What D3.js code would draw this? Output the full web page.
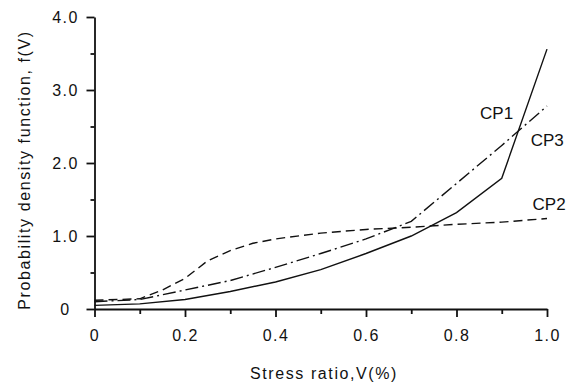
<!DOCTYPE html>
<html><head><meta charset="utf-8">
<script src="https://cdn.jsdelivr.net/npm/d3@7"></script>
<style>
body{margin:0;background:#fff;}
text{font-family:"Liberation Sans",Arial,sans-serif;fill:#111;}
</style></head>
<body><svg id="c" width="569" height="385"></svg>
<script>
const vCP1 = [0,0.1,0.2,0.3,0.4,0.5,0.6,0.7,0.8,0.9,1.0];
const fCP1 = [0.05,0.07,0.13,0.24,0.37,0.54,0.76,1.0,1.32,1.79,3.56];
const vCP2 = [0,0.1,0.15,0.2,0.25,0.3,0.35,0.4,0.5,0.6,0.7,0.8,0.9,1.0];
const fCP2 = [0.12,0.14,0.26,0.42,0.66,0.8,0.9,0.96,1.04,1.09,1.12,1.16,1.19,1.24];
const vCP3 = [0,0.1,0.2,0.3,0.4,0.5,0.6,0.7,0.8,0.9,1.0];
const fCP3 = [0.1,0.13,0.26,0.39,0.57,0.76,0.96,1.2,1.72,2.24,2.78];
const seriesNames = ["CP1","CP2","CP3"];
const xMajor = [0,0.2,0.4,0.6,0.8,1.0];
const xMajorLabels = ["0","0.2","0.4","0.6","0.8","1.0"];
const xMinor = [0.1,0.3,0.5,0.7,0.9];
const yMajor = [0,1,2,3,4];
const yMajorLabels = ["0","1.0","2.0","3.0","4.0"];
const yMinor = [0.5,1.5,2.5,3.5];
const xTitle = "Stress ratio,V(%)";
const yTitle = "Probability density function, f(V)";

const svg = d3.select("#c");
const x = d3.scaleLinear().domain([0,1]).range([94.5,547]);
const y = d3.scaleLinear().domain([0,4]).range([309,17]);

// axes
const gx = svg.append("g").attr("transform","translate(0,309)");
gx.call(d3.axisBottom(x).tickValues(xMinor).tickSize(5).tickSizeOuter(0).tickFormat(""));
gx.call(g=>g.select(".domain").remove());
const gx2 = svg.append("g").attr("transform","translate(0,309)");
gx2.call(d3.axisBottom(x).tickValues(xMajor).tickSize(8).tickSizeOuter(0).tickPadding(13)
  .tickFormat((d,i)=>xMajorLabels[i]));
const gy = svg.append("g").attr("transform","translate(94.5,0)");
gy.call(d3.axisLeft(y).tickValues(yMinor).tickSize(4).tickSizeOuter(0).tickFormat(""));
gy.call(g=>g.select(".domain").remove());
const gy2 = svg.append("g").attr("transform","translate(94.5,0)");
gy2.call(d3.axisLeft(y).tickValues(yMajor).tickSize(8).tickSizeOuter(0).tickPadding(0)
  .tickFormat((d,i)=>yMajorLabels[i]));
svg.selectAll(".domain,.tick line").attr("stroke","#111").attr("stroke-width",1.8);
svg.selectAll(".tick text").attr("font-size",16).attr("letter-spacing","1.5px")
  .attr("fill","#111").attr("font-family","'Liberation Sans',Arial,sans-serif");
gy2.selectAll(".tick text").attr("text-anchor","middle").attr("x",-29).attr("dy","0.36em");
gx2.selectAll(".tick text").attr("dy","0.71em");

// titles
svg.append("text").attr("x",324).attr("y",379).attr("text-anchor","middle")
  .attr("font-size",16).attr("letter-spacing","1.6px").text(xTitle);
svg.append("text").attr("transform","translate(30,170) rotate(-90)").attr("text-anchor","middle")
  .attr("font-size",16).attr("letter-spacing","1.6px").text(yTitle);

// lines
const line = d3.line().x(d=>x(d[0])).y(d=>y(d[1]));
const data = [
  {v:vCP1,f:fCP1,dash:null},
  {v:vCP2,f:fCP2,dash:"9,5"},
  {v:vCP3,f:fCP3,dash:"13,4,2,4"}
];
data.forEach(s=>{
  const pts = s.v.map((v,i)=>[v,s.f[i]]);
  const p = svg.append("path").attr("d",line(pts)).attr("fill","none")
    .attr("stroke","#111").attr("stroke-width",1.4);
  if(s.dash) p.attr("stroke-dasharray",s.dash);
});

// labels
const lab = [
  {t:seriesNames[0], v:0.852, f:2.6},
  {t:seriesNames[2], v:0.964, f:2.23},
  {t:seriesNames[1], v:0.968, f:1.35}
];
lab.forEach(l=>{
  svg.append("text").attr("x",x(l.v)).attr("y",y(l.f)).attr("font-size",17)
    .text(l.t);
});
</script></body></html>
